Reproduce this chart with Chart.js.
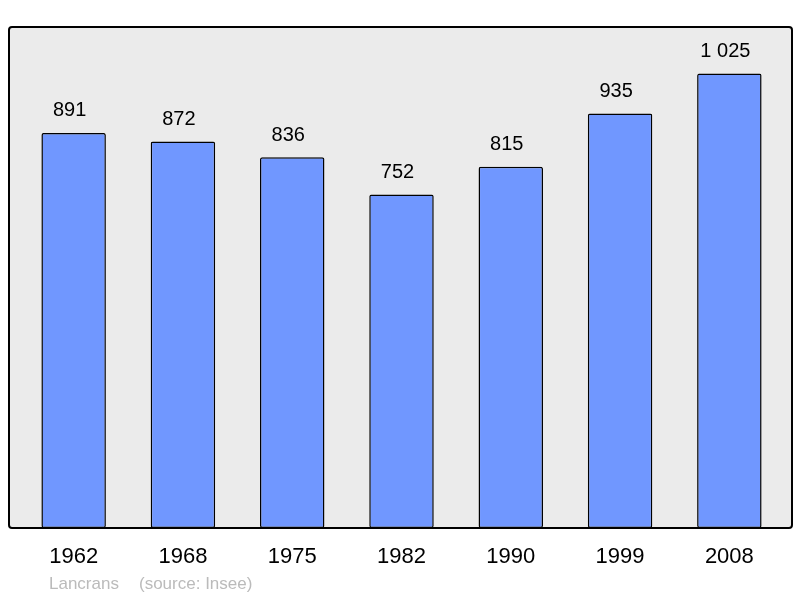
<!DOCTYPE html>
<html>
<head>
<meta charset="utf-8">
<script src="https://cdn.jsdelivr.net/npm/chart.js@4"></script>
<style>
  html, body { margin: 0; padding: 0; background: #fff; }
  canvas { display: block; }
</style>
</head>
<body>
<canvas id="pop" width="800" height="598"></canvas>
<script>
const annees = ["1962", "1968", "1975", "1982", "1990", "1999", "2008"];
const population = [891, 872, 836, 752, 815, 935, 1025];
const commune = "Lancrans";
const source = "(source: Insee)";

function formatNombre(n) {
  return String(n).replace(/\B(?=(\d{3})+(?!\d))/g, " ");
}

// fond gris encadré + valeurs au-dessus des barres + légende source
const cadre = {
  id: 'cadre',
  beforeDatasetsDraw(chart) {
    const a = chart.chartArea;
    const ctx = chart.ctx;
    ctx.save();
    ctx.beginPath();
    ctx.roundRect(9, a.top, 783, a.bottom - a.top, 3);
    ctx.fillStyle = "#ebebeb";
    ctx.fill();
    ctx.restore();
  },
  afterDatasetsDraw(chart) {
    const a = chart.chartArea;
    const ctx = chart.ctx;
    ctx.save();
    ctx.beginPath();
    ctx.roundRect(9, a.top, 783, a.bottom - a.top, 3);
    ctx.lineWidth = 2;
    ctx.strokeStyle = "#000";
    ctx.stroke();

    ctx.font = "20px 'Liberation Sans', Arial, sans-serif";
    ctx.fillStyle = "#000";
    ctx.textAlign = "center";
    ctx.textBaseline = "middle";
    chart.getDatasetMeta(0).data.forEach((bar, i) => {
      ctx.fillText(formatNombre(population[i]), bar.x - 4, bar.y - 22);
    });

    ctx.font = "17px 'Liberation Sans', Arial, sans-serif";
    ctx.fillStyle = "#bbbbbb";
    ctx.textAlign = "left";
    ctx.fillText(commune, 49, 584);
    ctx.fillText(source, 139, 584);
    ctx.restore();
  }
};

new Chart(document.getElementById("pop"), {
  type: 'bar',
  data: {
    labels: annees,
    datasets: [{
      data: population,
      backgroundColor: "#7097ff",
      borderColor: "#000",
      borderWidth: 1.5,
      borderRadius: 2,
      borderSkipped: false,
      barPercentage: 0.59,
      categoryPercentage: 1
    }]
  },
  options: {
    responsive: false,
    animation: false,
    layout: { padding: { left: 19, right: 16, top: 27, bottom: 0 } },
    plugins: {
      legend: { display: false },
      tooltip: { enabled: false }
    },
    scales: {
      x: {
        grid: { display: false, drawTicks: false },
        border: { display: false },
        ticks: {
          color: "#000",
          padding: 16,
          font: { family: "'Liberation Sans', Arial, sans-serif", size: 22 }
        },
        afterFit(scale) { scale.height = 70; }
      },
      y: {
        display: false,
        min: 0,
        max: 1130
      }
    }
  },
  plugins: [cadre]
});
</script>
</body>
</html>
